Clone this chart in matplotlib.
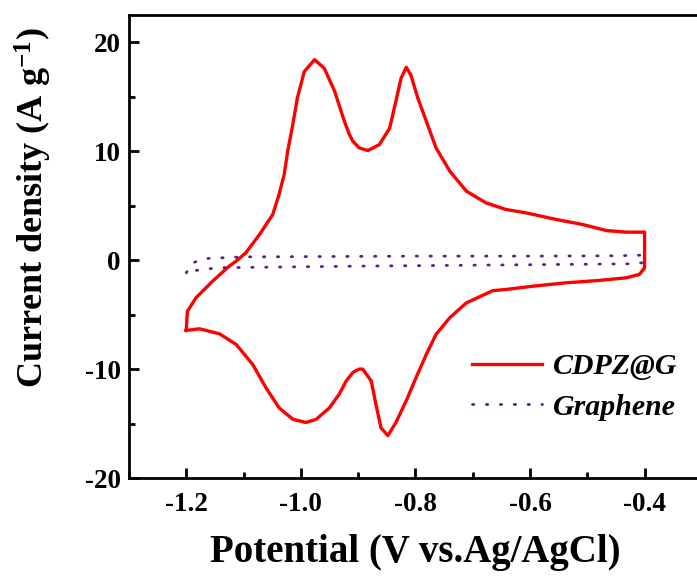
import numpy as np
import matplotlib
matplotlib.use("Agg")
import matplotlib.pyplot as plt

plt.rcParams['font.family'] = ['Liberation Serif', 'DejaVu Serif']
plt.rcParams['font.weight'] = 'bold'
plt.rcParams['axes.unicode_minus'] = False
plt.rcParams['mathtext.fontset'] = 'custom'
plt.rcParams['mathtext.rm'] = 'Liberation Serif:bold'
plt.rcParams['mathtext.bf'] = 'Liberation Serif:bold'
plt.rcParams['mathtext.it'] = 'Liberation Serif:bold:italic'

# CDPZ@G cyclic voltammogram (V, A/g)
cdpz_x = [-1.2, -1.198, -1.183, -1.154, -1.125, -1.113, -1.096, -1.072, -1.049, -1.038, -1.029,
          -1.023, -1.014, -1.006, -0.994, -0.976, -0.959, -0.941, -0.924, -0.915, -0.909,
          -0.898, -0.883, -0.863, -0.845, -0.834, -0.825, -0.816, -0.808, -0.796, -0.781,
          -0.764, -0.74, -0.711, -0.677, -0.642, -0.607, -0.554, -0.508, -0.467, -0.432, -0.4,
          -0.4, -0.409, -0.432, -0.479, -0.537, -0.595, -0.642, -0.665, -0.711, -0.74, -0.764,
          -0.781, -0.799, -0.816, -0.834, -0.848, -0.86, -0.869, -0.877, -0.892, -0.898,
          -0.909, -0.921, -0.933, -0.95, -0.973, -0.991, -1.014, -1.038, -1.061, -1.084,
          -1.113, -1.142, -1.177, -1.2]
cdpz_y = [-6.45, -4.7, -3.46, -1.93, -0.55, -0.09, 0.67, 2.36, 4.19, 6.03, 7.86,
          10.0, 12.45, 14.9, 17.3, 18.4, 17.6, 15.5, 12.75, 11.5, 10.9,
          10.3, 10.06, 10.6, 12.1, 14.6, 16.7, 17.7, 17.0, 14.9, 12.75,
          10.3, 8.17, 6.33, 5.26, 4.65, 4.34, 3.73, 3.27, 2.72, 2.57, 2.57,
          -0.7, -1.31, -1.62, -1.86, -2.08, -2.39, -2.69, -2.8, -3.92, -5.28, -6.81,
          -8.65, -10.8, -12.9, -14.9, -16.1, -15.4, -13.2, -11.1, -10.0, -10.0,
          -10.3, -11.1, -12.3, -13.55, -14.6, -14.9, -14.6, -13.55, -11.7, -9.57,
          -7.73, -6.76, -6.3, -6.45]

# Graphene cyclic voltammogram
gr_x = [-1.2, -1.189, -1.166, -1.1, -0.8, -0.6, -0.45, -0.403, -0.4, -0.405, -0.43,
        -0.6, -0.9, -1.146, -1.168, -1.192, -1.2]
gr_y = [-1.16, -0.25, 0.15, 0.3, 0.37, 0.37, 0.4, 0.46, -0.1, -0.25, -0.34,
        -0.42, -0.55, -0.7, -0.85, -1.0, -1.16]

fig = plt.figure(figsize=(6.97, 5.76), dpi=100)
ax = fig.add_axes([0.185, 0.170, 0.822, 0.804])

ax.plot(cdpz_x, cdpz_y, color='#ff0000', lw=2.4, label='CDPZ@G')
ax.plot(gr_x, gr_y, color='#5b2188', lw=2.0, ls=(0, (0.5, 4.5)), dash_capstyle='round',
        label='Graphene')

ax.set_xlim(-1.3, -0.3)
ax.set_ylim(-20, 22.5)
ax.set_xticks([-1.2, -1.0, -0.8, -0.6, -0.4])
ax.set_xticks(np.arange(-1.3, -0.29, 0.1), minor=True)
ax.set_yticks([-20, -10, 0, 10, 20])
ax.set_yticks([-15, -5, 5, 15], minor=True)
ax.tick_params(which='both', direction='in', width=2, labelsize=19.5)
ax.tick_params(axis='x', pad=10)
ax.tick_params(axis='y', pad=6)
ax.tick_params(which='major', length=7)
ax.tick_params(which='minor', length=4)
for s in ax.spines.values():
    s.set_linewidth(2)

ax.set_xlabel('Potential (V vs.Ag/AgCl)', fontsize=28, fontweight='bold', labelpad=12)
ax.set_ylabel('Current density (A g$^{-1}$)', fontsize=26, fontweight='bold')
ax.yaxis.set_label_coords(-0.13, 0.583)

ax.legend(loc='center left', bbox_to_anchor=(0.599, 0.197), frameon=False, borderpad=0,
          borderaxespad=0, handlelength=2.35, handletextpad=0.37, labelspacing=0.45,
          prop={'family': 'Liberation Serif', 'weight': 'bold', 'style': 'italic', 'size': 21.5})

fig.savefig('out.png', dpi=100)
